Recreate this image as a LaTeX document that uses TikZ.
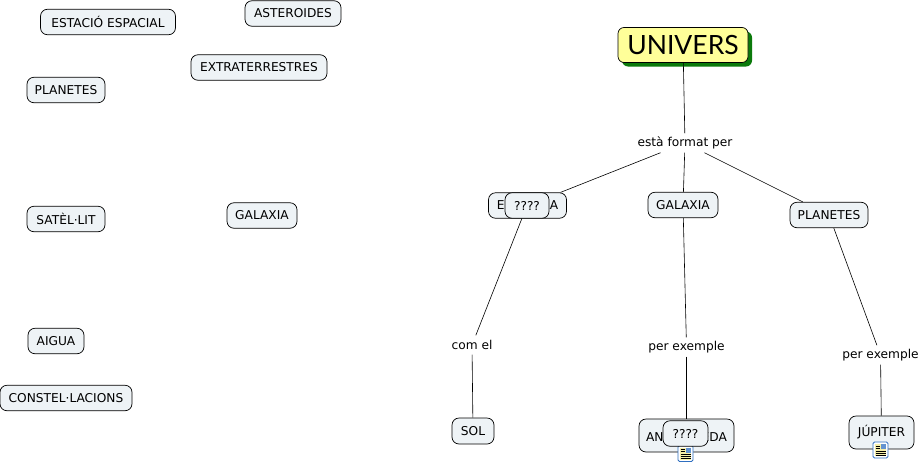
\documentclass[tikz,border=0pt]{standalone}
\usepackage{fontspec}
\setmainfont{DejaVu Sans}
\newfontfamily\titlefont{Lato}
\usetikzlibrary{arrows.meta,positioning,shadows}
\definecolor{boxfill}{HTML}{EEF3F6}
\definecolor{rootfill}{HTML}{FFFF99}
\definecolor{rootshadow}{HTML}{0B7A0B}
\definecolor{iconblue}{HTML}{2F6FC0}
\definecolor{iconpaper}{HTML}{F6EFA8}
\begin{document}
\begin{tikzpicture}[
    x=1pt, y=-1pt,
    concept/.style={draw, rounded corners=7pt, fill=boxfill, line width=0.7pt,
                    font=\fontsize{12.2}{14}\selectfont, inner sep=0pt, minimum height=25.5pt},
    root/.style={draw, rounded corners=6pt, fill=rootfill, line width=0.7pt, inner sep=0pt,
                 font=\titlefont\fontsize{26.5}{30}\selectfont, minimum width=130pt, minimum height=35pt,
                 drop shadow={shadow xshift=4pt, shadow yshift=-4pt, fill=rootshadow, opacity=1, rounded corners=6pt}},
    linklabel/.style={font=\fontsize{12.2}{14}\selectfont, inner sep=1pt, minimum height=19pt},
    link/.style={line width=0.6pt},
    icon/.style={draw=iconblue, rounded corners=1.5pt, fill=white, line width=0.9pt,
                 minimum width=15pt, minimum height=16pt, inner sep=0pt}
  ]
    \useasboundingbox (0,0) rectangle (921,464);
    % free concepts on the left
    \node[concept, minimum width=135pt] (estacio) at (108,22) {ESTACIÓ ESPACIAL};
    \node[concept, minimum width=96pt] (asteroides) at (293,13.5) {ASTEROIDES};
    \node[concept, minimum width=136pt] (extra) at (259,67.5) {EXTRATERRESTRES};
    \node[concept, minimum width=78pt] (planetesfree) at (66,90) {PLANETES};
    \node[concept, minimum width=78pt] (satellit) at (66,219) {SATÈL·LIT};
    \node[concept, minimum width=70pt] (galaxiafree) at (262,215.5) {GALAXIA};
    \node[concept, minimum width=56pt] (aigua) at (56,341) {AIGUA};
    \node[concept, minimum width=132pt] (constel) at (66,398) {CONSTEL·LACIONS};
    % map on the right
    \node[root] (univers) at (683,45) {UNIVERS};
    \node[linklabel] (format) at (685,143) {està format per};
    \node[concept, minimum width=78pt] (estrella) at (527.5,205.5) {ESTRELLA};
    \node[concept, minimum width=70pt] (galaxia) at (683,205) {GALAXIA};
    \node[concept, minimum width=78pt] (planetes) at (829,215) {PLANETES};
    \node[linklabel] (comel) at (472,345) {com el};
    \node[linklabel] (exgal) at (686.5,347) {per exemple};
    \node[linklabel] (explan) at (880.5,355) {per exemple};
    \node[concept, minimum width=42pt, minimum height=26pt] (sol) at (473,431) {SOL};
    \node[concept, minimum width=95pt, minimum height=33pt] (andromeda) at (686.5,435.5) {ANDRÒMEDA};
    \node[concept, minimum width=65pt, minimum height=33pt] (jupiter) at (881.5,432.5) {JÚPITER};
    \node[icon] (iconand) at (685.5,453.5) {};
    \node[icon] (iconjup) at (880.5,450) {};
    \foreach \ic in {iconand,iconjup} {
      \fill[iconpaper] ([shift={(-5.5,-6)}]\ic.center) rectangle ([shift={(5.5,6)}]\ic.center);
      \fill[iconblue!75] ([shift={(0,-6)}]\ic.center) rectangle ([shift={(5.5,-1)}]\ic.center);
      \draw[line width=0.7pt] ([shift={(-5,-4)}]\ic.center) -- ([shift={(-1,-4)}]\ic.center);
      \draw[line width=0.7pt] ([shift={(-5,-2)}]\ic.center) -- ([shift={(-1,-2)}]\ic.center);
      \draw[line width=0.7pt] ([shift={(-5,1)}]\ic.center) -- ([shift={(5,1)}]\ic.center);
      \draw[line width=0.7pt] ([shift={(-5,3)}]\ic.center) -- ([shift={(5,3)}]\ic.center);
      \draw[line width=0.7pt] ([shift={(-5,5)}]\ic.center) -- ([shift={(5,5)}]\ic.center);
    }
    \node[concept, minimum width=44pt] (hidestar) at (527,205.5) {????};
    \node[concept, minimum width=45pt] (hideand) at (685.5,433.5) {????};
    \draw[link] (univers) -- (format);
    \draw[link] (format) -- (estrella);
    \draw[link] (format) -- (galaxia);
    \draw[link] (format) -- (planetes);
    \draw[link] (hidestar) -- (comel);
    \draw[link] (comel) -- (sol);
    \draw[link] (galaxia) -- (exgal);
    \draw[link] (exgal) -- (andromeda);
    \draw[link] (planetes) -- (explan);
    \draw[link] (explan) -- (jupiter);
  \end{tikzpicture}
\end{document}
